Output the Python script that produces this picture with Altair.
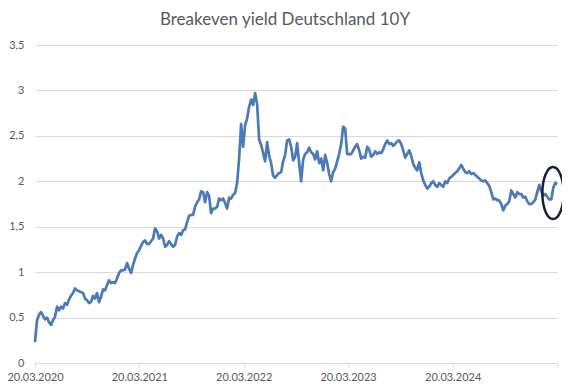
import altair as alt
import pandas as pd

title_text = "Breakeven yield Deutschland 10Y"
start_date = "2020-03-20"
week_step = "7D"

# weekly readings of the breakeven yield (%), from 20.03.2020
values = [
    0.23, 0.47, 0.53, 0.56, 0.52, 0.48, 0.50, 0.45, 0.42, 0.47,
    0.51, 0.62, 0.58, 0.62, 0.60, 0.66, 0.64, 0.70, 0.74, 0.77,
    0.82, 0.80, 0.79, 0.78, 0.77, 0.71, 0.69, 0.66, 0.67, 0.74,
    0.71, 0.77, 0.67, 0.73, 0.81, 0.80, 0.86, 0.91, 0.88, 0.89,
    0.88, 0.93, 0.99, 1.02, 1.02, 1.03, 1.10, 1.04, 0.99, 1.08,
    1.15, 1.21, 1.24, 1.29, 1.33, 1.35, 1.31, 1.31, 1.34, 1.37,
    1.48, 1.45, 1.37, 1.41, 1.37, 1.28, 1.30, 1.34, 1.31, 1.28,
    1.30, 1.39, 1.43, 1.41, 1.46, 1.47, 1.55, 1.62, 1.63, 1.63,
    1.72, 1.77, 1.80, 1.89, 1.88, 1.77, 1.88, 1.84, 1.65, 1.70,
    1.70, 1.72, 1.81, 1.79, 1.81, 1.76, 1.70, 1.82, 1.81, 1.85,
    1.87, 1.98, 2.25, 2.63, 2.38, 2.62, 2.69, 2.82, 2.90, 2.84,
    2.97, 2.85, 2.46, 2.40, 2.31, 2.22, 2.43, 2.28, 2.20, 2.06,
    2.04, 2.07, 2.09, 2.10, 2.22, 2.29, 2.45, 2.46, 2.38, 2.23,
    2.27, 2.42, 2.20, 2.00, 2.24, 2.30, 2.32, 2.37, 2.32, 2.30,
    2.24, 2.33, 2.20, 2.25, 2.12, 2.29, 2.20, 2.08, 2.00, 2.10,
    2.14, 2.22, 2.30, 2.41, 2.60, 2.58, 2.30, 2.30, 2.30, 2.34,
    2.38, 2.41, 2.34, 2.25, 2.27, 2.26, 2.38, 2.35, 2.27, 2.29,
    2.33, 2.30, 2.32, 2.31, 2.35, 2.41, 2.45, 2.41, 2.42, 2.39,
    2.41, 2.44, 2.45, 2.41, 2.34, 2.26, 2.30, 2.34, 2.28, 2.19,
    2.15, 2.12, 2.21, 2.09, 2.01, 1.96, 1.92, 1.94, 1.98, 2.00,
    1.96, 1.94, 1.98, 1.96, 1.94, 2.00, 1.98, 2.03, 2.05, 2.07,
    2.09, 2.11, 2.14, 2.18, 2.14, 2.10, 2.09, 2.11, 2.08, 2.09,
    2.07, 2.05, 2.03, 2.01, 2.00, 2.01, 1.98, 1.95, 1.88, 1.80,
    1.81, 1.79, 1.79, 1.75, 1.68, 1.73, 1.75, 1.78, 1.90, 1.86,
    1.82, 1.88, 1.86, 1.86, 1.82, 1.83, 1.78, 1.75, 1.75, 1.77,
    1.80, 1.88, 1.96, 1.89, 1.84, 1.86, 1.83, 1.80, 1.80, 1.93,
    1.98, 1.97,
]

x_tick_dates = ["2020-03-20", "2021-03-20", "2022-03-20", "2023-03-20",
                "2024-03-20", "2025-03-20"]
y_ticks = [0, 0.5, 1, 1.5, 2, 2.5, 3, 3.5]

marker_date = ["2025-03-06"]
marker_value = [1.87]


def to_dt(s):
    y, m, d = (int(p) for p in s.split("-"))
    return alt.DateTime(year=y, month=m, date=d, utc=True)


dates = pd.date_range(start_date, periods=len(values), freq=week_step).strftime("%Y-%m-%d")
df = pd.DataFrame({"date": list(dates), "value": values})
mk = pd.DataFrame({"date": marker_date, "value": marker_value})

FONT = "Lato"
TXT = "#595959"
GRID = "#d9d9d9"

x_enc = alt.X(
    "date:T",
    scale=alt.Scale(type="utc", domain=[to_dt(x_tick_dates[0]), to_dt(x_tick_dates[-1])], nice=False),
    axis=alt.Axis(
        title=None,
        values=[to_dt(s) for s in x_tick_dates],
        labelExpr="utcyear(datum.value) >= 2025 ? '' : utcFormat(datum.value, '%d.%m.%Y')",
        grid=False,
        domainColor=GRID,
        tickColor=GRID,
        tickSize=4,
        labelPadding=4,
        labelColor=TXT,
        labelFontSize=11,
        labelFont=FONT,
        labelFlush=False,
        labelOverlap=False,
    ),
)
y_enc = alt.Y(
    "value:Q",
    scale=alt.Scale(domain=[0, 3.5], nice=False, zero=True),
    axis=alt.Axis(
        title=None,
        values=y_ticks,
        labelExpr="replace(format(datum.value, '~g'), '.', ',')",
        grid=True,
        gridColor=GRID,
        gridWidth=1,
        domain=False,
        ticks=False,
        labelPadding=11,
        labelColor=TXT,
        labelFontSize=11,
        labelFont=FONT,
    ),
)

line = alt.Chart(df).mark_line(color="#4a7ab8", strokeWidth=2.7, strokeJoin="round").encode(
    x=x_enc, y=y_enc
)

ellipse_path = "M -0.41,0 A 0.41,1 0 1,1 0.41,0 A 0.41,1 0 1,1 -0.41,0 Z"
marker = alt.Chart(mk).mark_point(
    shape=ellipse_path, filled=False, stroke="#15233a", strokeWidth=2.5, size=2704, opacity=1
).encode(x="date:T", y="value:Q")

chart = alt.layer(line, marker).properties(
    width=522,
    height=318,
    autosize=alt.AutoSizeParams(type="none"),
    padding={"left": 27, "top": 37, "right": 5, "bottom": 22},
    title=alt.TitleParams(
        title_text, font=FONT, fontSize=17, fontWeight="normal", color=TXT,
        anchor="middle", frame="group", offset=10, dx=-11,
    ),
).configure_view(stroke=None)

chart.save("out.html", embed_options={"renderer": "svg", "actions": False})
